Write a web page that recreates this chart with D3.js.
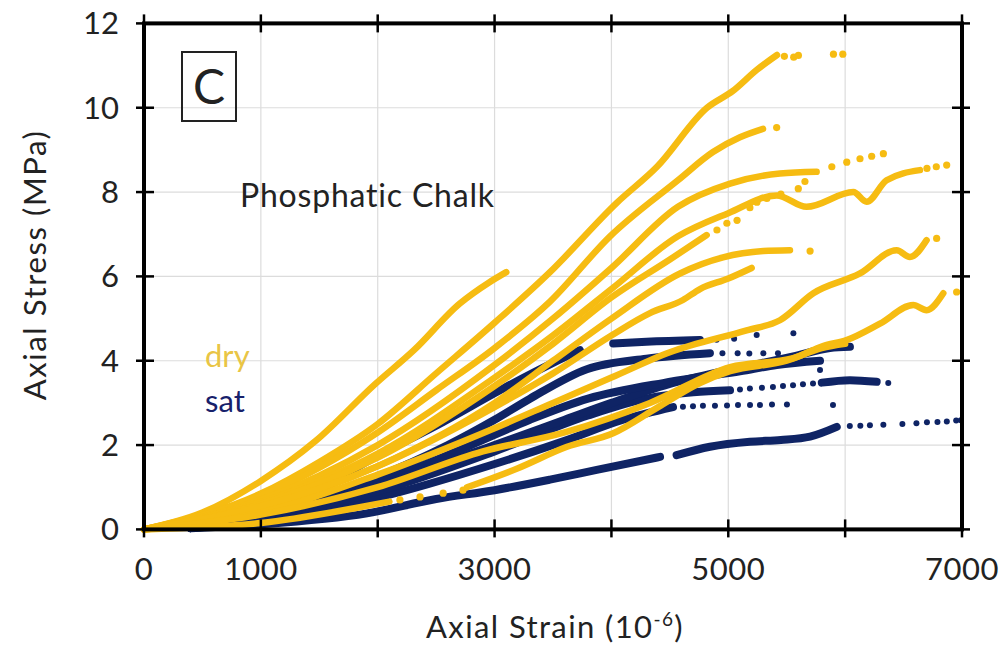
<!DOCTYPE html>
<html>
<head>
<meta charset="utf-8">
<script src="https://cdn.jsdelivr.net/npm/d3@7"></script>
<style>
  body { margin: 0; background: #fff; }
  svg { display: block; font-family: "Lato", "DejaVu Sans", sans-serif; }
</style>
</head>
<body>
<svg id="chart" width="1006" height="646"></svg>
<script>
// axis values
var xTickValues = [0, 1000, 2000, 3000, 4000, 5000, 6000, 7000];
var xTickLabels = [0, 1000, 3000, 5000, 7000];
var yTickValues = [0, 2, 4, 6, 8, 10, 12];

// dry samples: [strain (1e-6), stress (MPa)]  -- dense parts drawn as lines, sparse tails as dots
var dry1 = [[0,0],[500,0.4],[1000,1.15],[1470,2.1],[1980,3.45],[2310,4.25],[2700,5.35],[2950,5.85],[3100,6.1]];
var dry2 = [[0,0],[1000,0.85],[1500,1.6],[2000,2.5],[2500,3.7],[3000,4.9],[3474,6.1],[4048,7.75],[4390,8.6],[4818,10.0],[5040,10.4],[5245,10.9],[5417,11.25]];
var dry2Dots = [[5480,11.22],[5560,11.2],[5600,11.24],[5900,11.27],[5980,11.27]];
var dry3 = [[0,0],[1000,0.8],[2000,2.3],[2500,3.3],[3000,4.3],[3474,5.4],[3988,6.95],[4569,8.28],[4869,8.95],[5100,9.3],[5297,9.5]];
var dry3Dots = [[5414,9.53]];
var dry4 = [[0,0],[1000,0.7],[2000,2.0],[3000,3.9],[3500,5.0],[4000,6.2],[4569,7.65],[5015,8.2],[5442,8.44],[5756,8.48]];
var dry4Dots = [[5886,8.6],[6014,8.71],[6127,8.79],[6227,8.85],[6327,8.91]];
var dry5 = [[0,0],[1000,0.65],[2000,1.8],[3000,3.6],[3500,4.6],[4000,5.7],[4569,6.95],[5000,7.5],[5414,7.92],[5670,7.65],[6070,8.0],[6184,7.77],[6355,8.28],[6640,8.52]];
var dry5Dots = [[6700,8.56],[6780,8.6],[6869,8.64]];
var dry6 = [[0,0],[1000,0.6],[2000,1.7],[3000,3.4],[3500,4.4],[4000,5.5],[4500,6.4],[4815,6.98]];
var dry6Dots = [[4903,7.1],[4988,7.26],[5075,7.33],[5185,7.63],[5245,7.76],[5330,7.85],[5450,7.95],[5599,8.08],[5656,8.25]];
var dry7 = [[0,0],[1000,0.5],[2000,1.5],[3000,3.0],[3500,4.0],[4000,5.0],[4587,6.07],[4955,6.45],[5300,6.6],[5528,6.62]];
var dry7Dots = [[5700,6.6]];
var dry8 = [[0,0],[1000,0.55],[2000,1.5],[3000,2.9],[3500,3.7],[4000,4.6],[4330,5.13],[4612,5.44],[4758,5.7],[5000,5.95],[5200,6.2]];
var dry9 = [[0,0],[1000,0.4],[2000,1.3],[3000,2.4],[3500,3.0],[4000,3.6],[4500,4.2],[5157,4.72],[5442,4.96],[5728,5.6],[6127,6.07],[6441,6.62],[6554,6.46],[6697,6.86]];
var dry9Dots = [[6783,6.9]];
var dry10 = [[0,0],[1000,0.35],[2000,1.0],[2900,1.85],[3600,2.3],[4330,3.0],[5015,3.85],[5556,4.06],[5810,4.35],[6012,4.49],[6298,4.88],[6583,5.32],[6697,5.2],[6840,5.6]];
var dry10Dots = [[6954,5.63]];
var dry11 = [[0,0],[1000,0.15],[1800,0.5],[2100,0.66]];
var dry11Dots = [[2190,0.7],[2362,0.77],[2560,0.86],[2730,0.93]];
var dry11b = [[2764,1.0],[3200,1.45],[3620,1.96],[4015,2.28],[4400,2.9],[4758,3.47],[5015,3.75],[5500,4.0],[5800,4.3],[6000,4.4]];

// saturated samples
var sat1 = [[400,0.03],[1000,0.12],[1908,0.38],[2500,0.72],[3000,0.93],[3474,1.18],[3874,1.41],[4416,1.72]];
var sat1b = [[4558,1.76],[4843,1.96],[5185,2.08],[5450,2.12],[5700,2.2],[5928,2.43]];
var sat1Dots = [[6040,2.45],[6130,2.46],[6212,2.47],[6327,2.48],[6490,2.5],[6610,2.52],[6700,2.54],[6790,2.55],[6870,2.56],[6950,2.58],[6990,2.59]];
var sat2 = [[400,0.03],[1000,0.2],[2000,0.75],[3000,1.55],[3600,2.1],[4100,2.6],[4527,2.9]];
var sat2Dots = [[4612,2.91],[4698,2.92],[4783,2.93],[4886,2.93],[4989,2.94],[5083,2.95],[5186,2.95],[5271,2.95],[5374,2.96],[5502,2.96],[5896,2.95]];
var sat3 = [[400,0.03],[1000,0.25],[2000,0.9],[3000,1.85],[3800,2.7],[4300,3.1],[4700,3.25],[5015,3.3]];
var sat3Dots = [[5100,3.32],[5185,3.34],[5288,3.36],[5382,3.38],[5468,3.4],[5554,3.42],[5639,3.44],[5725,3.46],[6369,3.47]];
var sat3b = [[5800,3.48],[6041,3.54],[6270,3.5]];
var sat4 = [[400,0.04],[1000,0.3],[2000,1.05],[3000,2.0],[3600,2.6],[4000,3.0],[4500,3.45],[5000,3.78],[5556,4.1],[5870,4.3],[6041,4.33]];
var sat4Dots = [[5785,3.78]];
var sat5 = [[400,0.04],[1000,0.35],[2000,1.25],[2600,2.0],[3000,2.6],[3303,3.1],[3790,3.8],[4300,4.05],[4843,4.18]];
var sat5Dots = [[4950,4.18],[5080,4.18],[5180,4.17],[5300,4.18],[5425,4.18]];
var sat6 = [[400,0.04],[1000,0.45],[1565,1.1],[2000,1.75],[2560,2.55],[3046,3.3],[3500,3.95],[3730,4.25]];
var sat6b = [[4015,4.41],[4300,4.45],[4758,4.49]];
var sat6Dots = [[4900,4.5],[5050,4.52],[5243,4.61],[5557,4.65]];
var sat7 = [[400,0.03],[1000,0.3],[2000,1.1],[2800,2.0],[3303,2.6],[3800,3.1],[4441,3.47],[4758,3.61],[5100,3.75],[5414,3.9],[5785,4.0]];

var dryColor = '#F6BC12';
var satColor = '#0F2465';

var dryLayers = [
  { line: dry1 }, { line: dry2, dots: dry2Dots }, { line: dry3, dots: dry3Dots },
  { line: dry4, dots: dry4Dots }, { line: dry5, dots: dry5Dots }, { line: dry6, dots: dry6Dots },
  { line: dry7, dots: dry7Dots }, { line: dry8 }, { line: dry9, dots: dry9Dots },
  { line: dry10, dots: dry10Dots }, { line: dry11, dots: dry11Dots }, { line: dry11b }
];
var satLayers = [
  { line: sat1 }, { line: sat1b, dots: sat1Dots }, { line: sat2, dots: sat2Dots },
  { line: sat3, dots: sat3Dots }, { line: sat3b }, { line: sat4, dots: sat4Dots },
  { line: sat5, dots: sat5Dots }, { line: sat6 }, { line: sat6b, dots: sat6Dots }, { line: sat7 }
];

var svg = d3.select('#chart');
var x = d3.scaleLinear().domain([0, 7000]).range([144, 962]);
var y = d3.scaleLinear().domain([0, 12]).range([529.4, 23.4]);

// GRID
svg.append('g').selectAll('line').data(xTickValues.slice(1, -1)).enter().append('line')
  .attr('x1', d => x(d)).attr('x2', d => x(d)).attr('y1', y(12)).attr('y2', y(0))
  .attr('stroke', '#dcdcdc').attr('stroke-width', 1.2);
svg.append('g').selectAll('line').data(yTickValues.slice(1, -1)).enter().append('line')
  .attr('x1', x(0)).attr('x2', x(7000)).attr('y1', d => y(d)).attr('y2', d => y(d))
  .attr('stroke', '#dcdcdc').attr('stroke-width', 1.2);

// TEXT INSIDE PLOT
svg.append('rect').attr('x', 182).attr('y', 52).attr('width', 54).attr('height', 69)
  .attr('fill', 'none').attr('stroke', '#222').attr('stroke-width', 2);
svg.append('text').attr('x', 209).attr('y', 104).attr('text-anchor', 'middle')
  .attr('font-size', 48).attr('fill', '#222').text('C');
svg.append('text').attr('x', 240).attr('y', 207).attr('font-size', 32).attr('letter-spacing', 0.8)
  .attr('fill', '#222').text('Phosphatic Chalk');
svg.append('text').attr('x', 205).attr('y', 367).attr('font-size', 31).attr('fill', '#E9C545').text('dry');
svg.append('text').attr('x', 205).attr('y', 412).attr('font-size', 31).attr('fill', '#17216B').text('sat');

// DATA: sat under dry, sat drawn slightly wider so dark edges peek out
var line = d3.line().x(d => x(d[0])).y(d => y(d[1])).curve(d3.curveMonotoneX);
var plot = svg.append('g');
function drawLayer(s, color, width, r) {
  plot.append('path').attr('d', line(s.line)).attr('fill', 'none')
    .attr('stroke', color).attr('stroke-width', width)
    .attr('stroke-linecap', 'round').attr('stroke-linejoin', 'round');
  if (s.dots) {
    plot.append('g').selectAll('circle').data(s.dots).enter().append('circle')
      .attr('cx', d => x(d[0])).attr('cy', d => y(d[1])).attr('r', r).attr('fill', color);
  }
}
satLayers.forEach(s => drawLayer(s, satColor, 8, 3));
dryLayers.forEach(s => drawLayer(s, dryColor, 6.5, 3.6));

// AXES: frame + crossing ticks
var axisG = svg.append('g').attr('stroke', '#000');
axisG.append('rect').attr('x', x(0)).attr('y', y(12)).attr('width', x(7000) - x(0)).attr('height', y(0) - y(12))
  .attr('fill', 'none').attr('stroke-width', 4);
xTickValues.forEach(function (v) {
  axisG.append('line').attr('x1', x(v)).attr('x2', x(v)).attr('y1', y(0) - 10).attr('y2', y(0) + 8).attr('stroke-width', 2.5);
  axisG.append('line').attr('x1', x(v)).attr('x2', x(v)).attr('y1', y(12) - 9).attr('y2', y(12) + 9).attr('stroke-width', 2.5);
});
yTickValues.forEach(function (v) {
  axisG.append('line').attr('x1', x(0) - 8).attr('x2', x(0) + 10).attr('y1', y(v)).attr('y2', y(v)).attr('stroke-width', 2.5);
  axisG.append('line').attr('x1', x(7000) - 10).attr('x2', x(7000) + 8).attr('y1', y(v)).attr('y2', y(v)).attr('stroke-width', 2.5);
});

// TICK LABELS
svg.append('g').selectAll('text').data(xTickLabels).enter().append('text')
  .attr('x', d => x(d)).attr('y', 580).attr('text-anchor', 'middle')
  .attr('font-size', 31).attr('letter-spacing', 0.5).attr('fill', '#222').text(d => d);
svg.append('g').selectAll('text').data(yTickValues).enter().append('text')
  .attr('x', 119).attr('y', d => y(d) + 11).attr('text-anchor', 'end')
  .attr('font-size', 31).attr('fill', '#222').text(d => d);

// AXIS TITLES
var xt = svg.append('text').attr('x', 555).attr('y', 638).attr('text-anchor', 'middle')
  .attr('font-size', 31).attr('letter-spacing', 1.4).attr('fill', '#222');
xt.append('tspan').text('Axial Strain (10');
xt.append('tspan').attr('font-size', 19).attr('dy', -12).text('-6');
xt.append('tspan').attr('dy', 12).text(')');
svg.append('text').attr('transform', 'translate(46,265) rotate(-90)').attr('text-anchor', 'middle')
  .attr('font-size', 31).attr('letter-spacing', 1.6).attr('fill', '#222').text('Axial Stress (MPa)');
</script>
</body>
</html>
